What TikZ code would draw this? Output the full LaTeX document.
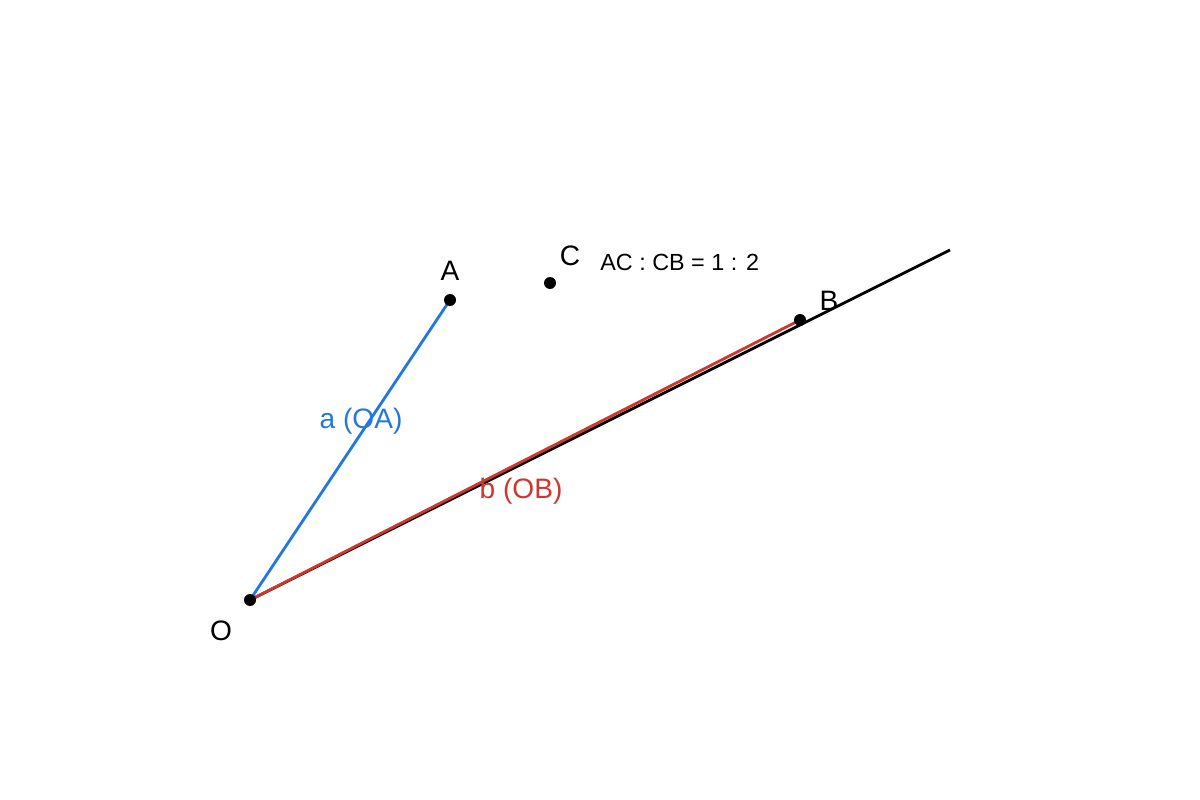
\documentclass[tikz,border=0pt]{standalone}
\usepackage{fontspec}
\setmainfont{Liberation Sans}
\usepackage{xcolor}
\definecolor{vecblue}{RGB}{35,120,220}
\definecolor{vecred}{RGB}{205,55,45}

\begin{document}
\begin{tikzpicture}[x=0.02cm, y=-0.02cm,
                every node/.style={font=\fontsize{16}{19}\selectfont, inner sep=0pt},
                pt/.style={circle, fill=black, minimum size=0.24cm, inner sep=0pt},
                seg/.style={line width=1.6pt},
              ]
              \useasboundingbox (0,0) rectangle (1200,800);
              \coordinate (O) at (250,600);
              \coordinate (A) at (450,300);
              \coordinate (C) at (550,283);
              \coordinate (B) at (800,320);
              \coordinate (E) at (950,250);
              \draw[seg, black] (O) -- (E);
              \draw[seg, vecblue] (O) -- (A);
              \draw[seg, vecred] (O) -- (B);
              \foreach \p in {O,A,C,B}
                \node[pt] (dot\p) at (\p) {};
              \node (lO) at (221,631) {O};
              \node (lA) at (450,271) {A};
              \node (lC) at (570,256) {C};
              \node (lB) at (829,301) {B};
              \node[anchor=west, font=\fontsize{13.3}{16}\selectfont] (ratio) at (600,262) {AC : CB = 1 : 2};
              \node[text=vecblue] (la) at (361,421) {a (OA)};
              \node[text=vecred] (lb) at (521,491) {b (OB)};
              \end{tikzpicture}
\end{document}
